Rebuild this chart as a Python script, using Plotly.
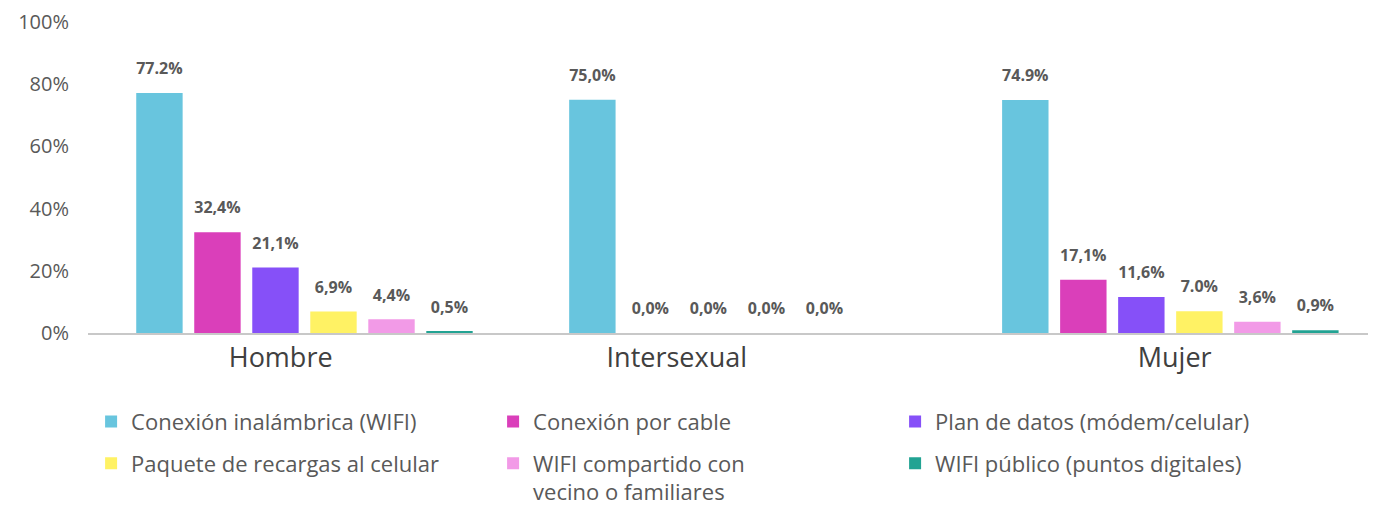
import plotly.graph_objects as go

categories = ["Hombre", "Intersexual", "Mujer"]
cat_pos = [0, 1, 2]
series_names = [
    "Conexión inalámbrica (WIFI)",
    "Conexión por cable",
    "Plan de datos (módem/celular)",
    "Paquete de recargas al celular",
    "WIFI compartido con<br>vecino o familiares",
    "WIFI público (puntos digitales)",
]
values = [
    [77.2, 75.0, 74.9],
    [32.4, 0.0, 17.1],
    [21.1, 0.0, 11.6],
    [6.9, 0.0, 7.0],
    [4.4, 0.0, 3.6],
    [0.5, None, 0.9],
]
labels = [
    ["77.2%", "75,0%", "74.9%"],
    ["32,4%", "0,0%", "17,1%"],
    ["21,1%", "0,0%", "11,6%"],
    ["6,9%", "0,0%", "7.0%"],
    ["4,4%", "0,0%", "3,6%"],
    ["0,5%", "", "0,9%"],
]
colors = ["#68C5DE", "#DA3FBA", "#8650F8", "#FFF264", "#F29AE7", "#22A393"]
y_ticks = [0, 20, 40, 60, 80, 100]
y_ticktext = ["0%", "20%", "40%", "60%", "80%", "100%"]
# category label positions as drawn in the source (slightly off-centre)
cat_label_pos = [-0.055, 0.86, 2.01]

FONT = "'Open Sans', sans-serif"
GRAY = "#595959"
GAP = 0.196

fig = go.Figure()
for i, (name, vals, col) in enumerate(zip(series_names, values, colors)):
    fig.add_trace(go.Bar(
        name=name,
        x=cat_pos,
        y=vals,
        offsetgroup=str(i),
        marker=dict(color=col, line=dict(width=0)),
        legend="legend" if i < 3 else "legend2",
        hoverinfo="skip",
    ))
for i, (vals, txt) in enumerate(zip(values, labels)):
    fig.add_trace(go.Scatter(
        x=cat_pos,
        y=vals,
        text=txt,
        mode="markers+text",
        textposition="top center",
        offsetgroup=str(i),
        marker=dict(size=22, opacity=0),
        textfont=dict(family=FONT, size=16, color=GRAY, weight="bold"),
        showlegend=False,
        cliponaxis=False,
        hoverinfo="skip",
    ))

legend_common = dict(
    orientation="h",
    xanchor="left",
    yanchor="top",
    x=0.0024,
    font=dict(family=FONT, size=22, color=GRAY),
    entrywidth=357,
    entrywidthmode="pixels",
    traceorder="normal",
    valign="top",
    bgcolor="rgba(0,0,0,0)",
)

fig.update_layout(
    width=1368,
    height=500,
    margin=dict(l=80, r=0, t=14, b=175, autoexpand=False),
    paper_bgcolor="white",
    plot_bgcolor="white",
    barmode="group",
    bargap=GAP,
    bargroupgap=0.2,
    scattermode="group",
    scattergap=GAP,
    font=dict(family=FONT, color=GRAY),
    showlegend=True,
    legend=dict(y=-0.218, **legend_common),
    legend2=dict(y=-0.352, **legend_common),
)
fig.update_xaxes(
    range=[-0.5, 2.475],
    tickvals=cat_label_pos,
    ticktext=categories,
    showline=True,
    linecolor="#C8C8C8",
    linewidth=2,
    ticks="",
    zeroline=False,
    tickfont=dict(family=FONT, size=27, color="#404040"),
    showgrid=False,
)
fig.update_yaxes(
    range=[0, 100],
    tickvals=y_ticks,
    ticktext=y_ticktext,
    showgrid=False,
    zeroline=False,
    showline=False,
    tickfont=dict(family=FONT, size=20, color=GRAY),
    ticklabelstandoff=18,
)

fig.write_html("out.html")
